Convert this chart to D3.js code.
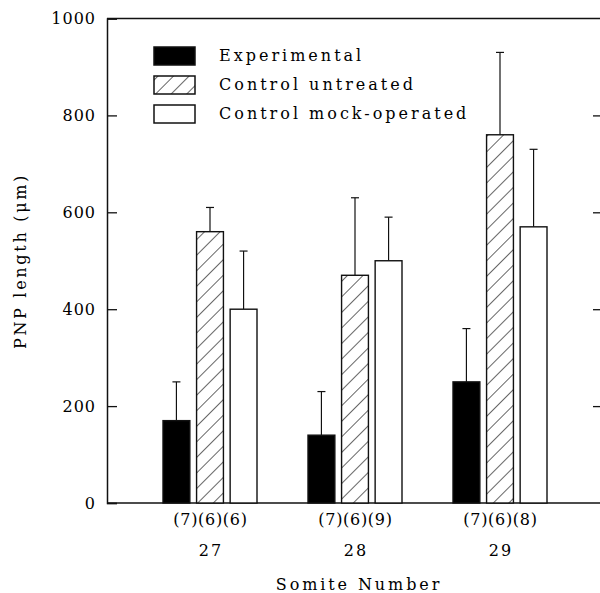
<!DOCTYPE html>
<html><head><meta charset="utf-8">
<script src="https://cdn.jsdelivr.net/npm/d3@7"></script>
<style>body{margin:0;background:#fff}svg{display:block}text{font-family:"DejaVu Serif",serif;fill:#000}</style>
</head><body>
<svg id="c" width="600" height="593"></svg>
<script>
const somites = ["27","28","29"];
const series = ["Experimental","Control untreated","Control mock-operated"];
const means = {
  "Experimental":        [170, 140, 250],
  "Control untreated":   [560, 470, 760],
  "Control mock-operated":[400, 500, 570]
};
const errTops = {
  "Experimental":        [250, 230, 360],
  "Control untreated":   [610, 630, 930],
  "Control mock-operated":[520, 590, 730]
};
const counts = ["(7)(6)(6)","(7)(6)(9)","(7)(6)(8)"];
const yTicks = [0,200,400,600,800,1000];

const svg = d3.select("#c");
const L = 107, R = 600, T = 18.5, B = 503;
const y = d3.scaleLinear().domain([0,1000]).range([B,T]);
const xc = d3.scalePoint().domain(somites).range([210,500]);
const xs = d3.scaleBand().domain(series).range([-47,47]).paddingInner(0.2);

const defs = svg.append("defs");
const pat = defs.append("pattern").attr("id","hatch").attr("patternUnits","userSpaceOnUse")
  .attr("width",11).attr("height",11).attr("patternTransform","rotate(45)");
pat.append("rect").attr("width",11).attr("height",11).attr("fill","#fff");
pat.append("line").attr("x1",0).attr("y1",0).attr("x2",0).attr("y2",11).attr("stroke","#000").attr("stroke-width",1.2);

const fills = {"Experimental":"#000","Control untreated":"url(#hatch)","Control mock-operated":"#fff"};

// frame
svg.append("line").attr("x1",L).attr("x2",R).attr("y1",T).attr("y2",T).attr("stroke","#111").attr("stroke-width",1.5);
svg.append("line").attr("x1",L).attr("x2",R).attr("y1",B).attr("y2",B).attr("stroke","#111").attr("stroke-width",1.5);

const yl = svg.append("g").attr("transform",`translate(${L},0)`)
  .call(d3.axisLeft(y).tickValues(yTicks).tickSize(-10).tickPadding(12).tickFormat(d3.format("d")));
yl.select(".domain").attr("stroke","#111").attr("stroke-width",1.5);
yl.selectAll(".tick line").attr("stroke","#111").attr("stroke-width",1.3);
yl.selectAll("text").attr("font-size",16).attr("font-family","DejaVu Serif").attr("fill","#000").attr("letter-spacing",1).attr("dx",1);

const yr = svg.append("g").attr("transform",`translate(${R},0)`)
  .call(d3.axisRight(y).tickValues([200,400,600,800]).tickSize(-7).tickFormat(""));
yr.select(".domain").remove();
yr.selectAll(".tick line").attr("stroke","#111").attr("stroke-width",1.3);

// bars
series.forEach(s=>{
  somites.forEach((k,i)=>{
    const x0 = xc(k)+xs(s), w = xs.bandwidth(), cx = x0+w/2;
    svg.append("line").attr("x1",cx).attr("x2",cx).attr("y1",y(means[s][i])).attr("y2",y(errTops[s][i])).attr("stroke","#111").attr("stroke-width",1.2);
    svg.append("line").attr("x1",cx-4).attr("x2",cx+4).attr("y1",y(errTops[s][i])).attr("y2",y(errTops[s][i])).attr("stroke","#111").attr("stroke-width",1.2);
    svg.append("rect").attr("x",x0).attr("width",w).attr("y",y(means[s][i])).attr("height",y(0)-y(means[s][i]))
      .attr("fill",fills[s]).attr("stroke","#111").attr("stroke-width",1.4);
  });
});

// category labels
somites.forEach((k,i)=>{
  svg.append("text").attr("x",xc(k)+0.5).attr("y",525).attr("text-anchor","middle").attr("font-size",16).attr("letter-spacing",0.7).text(counts[i]);
  svg.append("text").attr("x",xc(k)+1).attr("y",556).attr("text-anchor","middle").attr("font-size",16).attr("letter-spacing",2).text(k);
});
svg.append("text").attr("x",359).attr("y",590).attr("text-anchor","middle").attr("font-size",16).attr("letter-spacing",2.9).text("Somite Number");

// y label
svg.append("text").attr("transform","translate(26,261) rotate(-90)").attr("text-anchor","middle").attr("font-size",16).attr("letter-spacing",2.7).text("PNP length (μm)");

// legend
series.forEach((s,i)=>{
  const ly = 47 + i*29;
  svg.append("rect").attr("x",154).attr("y",ly).attr("width",41).attr("height",18).attr("fill",fills[s]).attr("stroke","#111").attr("stroke-width",1.5);
  svg.append("text").attr("x",219).attr("y",ly+14).attr("font-size",16).attr("letter-spacing",3).text(s);
});
</script>
</body></html>
